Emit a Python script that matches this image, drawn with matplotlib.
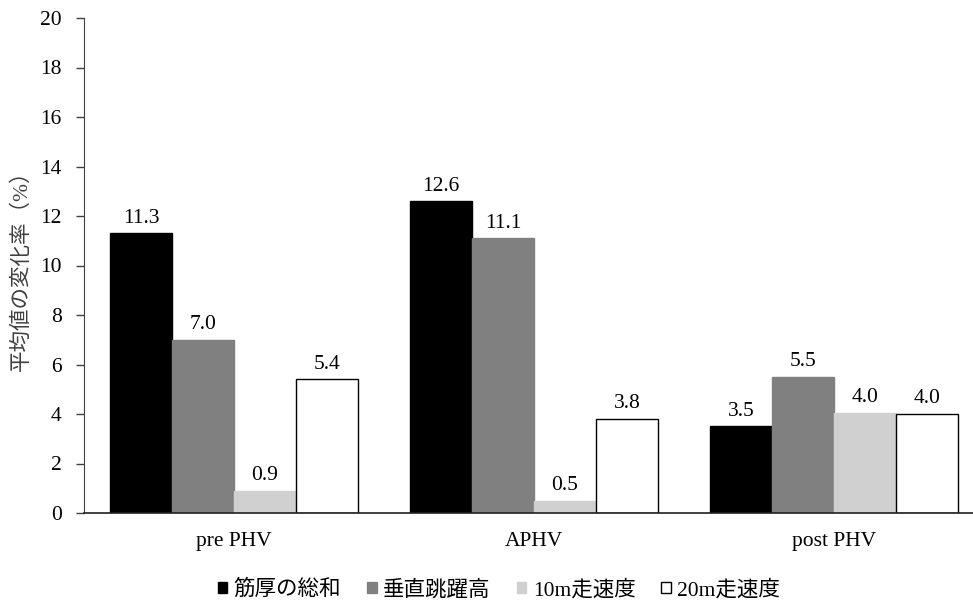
import matplotlib
matplotlib.use("Agg")
import matplotlib.pyplot as plt
from matplotlib.patches import Patch
import numpy as np

plt.rcParams['font.family'] = ['Liberation Serif', 'Noto Sans CJK JP', 'DejaVu Sans']

groups = ['pre PHV', 'APHV', 'post PHV']
series = ['筋厚の総和', '垂直跳躍高', '10m走速度', '20m走速度']
values = [
    [11.3, 12.6, 3.5],   # 筋厚の総和
    [7.0, 11.1, 5.5],    # 垂直跳躍高
    [0.9, 0.5, 4.04],    # 10m走速度
    [5.4, 3.8, 4.0],     # 20m走速度
]
face_colors = ['#000000', '#808080', '#D0D0D0', '#FFFFFF']
edge_colors = ['#000000', '#808080', '#D0D0D0', '#000000']

FS = 15.5

fig = plt.figure(figsize=(9.73, 6.03), dpi=100)
ax = fig.add_axes([84 / 973, 90 / 603, 900 / 973, 495 / 603])

x = np.arange(len(groups))
width = 0.2067
for i, (name, vals) in enumerate(zip(series, values)):
    offs = (i - 1.5) * width
    bars = ax.bar(x + offs, vals, width, color=face_colors[i],
                  edgecolor=edge_colors[i], linewidth=1.0, label=name)
    ax.bar_label(bars, labels=[f'{v:.1f}' for v in vals], padding=4, fontsize=FS)

ax.set_xlim(-0.5, 2.5)
ax.set_ylim(0, 20)
ax.set_yticks(np.arange(0, 21, 2))
ax.set_xticks(x)
ax.set_xticklabels(groups)
ax.tick_params(axis='x', length=0, pad=14, labelsize=FS)
ax.tick_params(axis='y', length=6, width=1, color='#404040', labelsize=FS, pad=10)

for side in ['top', 'right']:
    ax.spines[side].set_visible(False)
ax.spines['left'].set_color('#404040')
ax.spines['bottom'].set_color('#202020')
ax.spines['bottom'].set_linewidth(1.2)

fig.text(22 / 973, (603 - 265) / 603, '平均値の変化率（%）', rotation=90,
         ha='center', va='center', fontsize=FS, color='#404040')

handles = [Patch(facecolor=face_colors[i], edgecolor=edge_colors[i], label=series[i])
           for i in range(4)]
fig.legend(handles=handles, loc='center', bbox_to_anchor=(499 / 973, (603 - 590) / 603),
           ncol=4, frameon=False, fontsize=FS, handlelength=0.45, handleheight=0.45,
           handletextpad=0.3, columnspacing=1.2, borderpad=0)

fig.savefig('out.png', dpi=100)
